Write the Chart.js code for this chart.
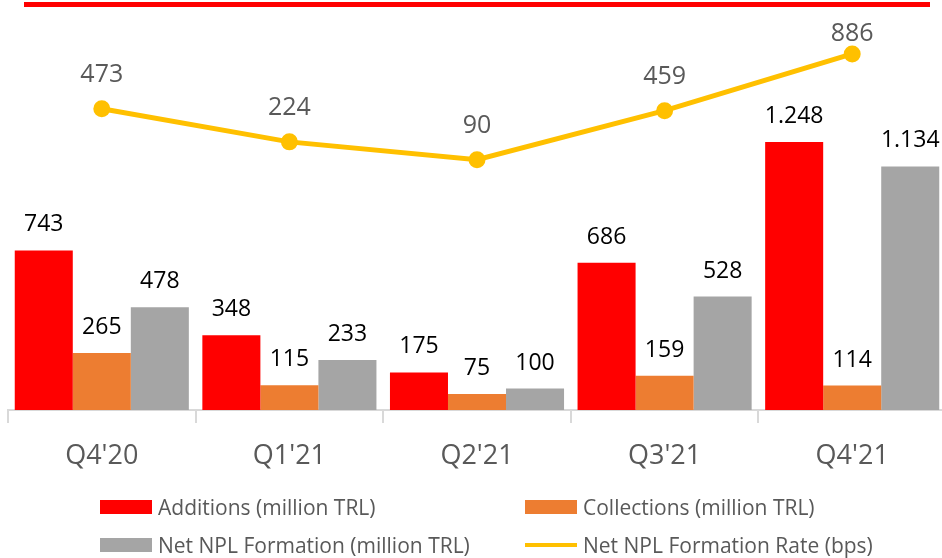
<!DOCTYPE html>
<html>
<head>
<meta charset="utf-8">
<script src="https://cdn.jsdelivr.net/npm/chart.js@4"></script>
<style>
  html, body { margin: 0; padding: 0; background: #fff; overflow: hidden; }
  #wrap { position: relative; width: 942px; height: 558px; overflow: hidden; }
  #topline { position: absolute; left: 24px; top: 2px; width: 906px; height: 5px; background: #ff0000; }
  #chart { position: absolute; left: -3px; top: 0; }
  #legend { position: absolute; left: 100px; top: 488px; display: grid; grid-template-columns: 425px auto; grid-auto-rows: 38px;
    font-family: "Open Sans", sans-serif; font-size: 21px; color: #595959; }
  .item { display: flex; align-items: center; }
  .swatch { width: 52px; margin-right: 6px; }
</style>
</head>
<body>
<div id="wrap">
  <canvas id="chart" width="960" height="558" style="width:960px;height:558px"></canvas>
  <div id="topline"></div>
  <div id="legend"></div>
</div>
<script>
const quarters = ["Q4'20", "Q1'21", "Q2'21", "Q3'21", "Q4'21"]
const additions = [743, 348, 175, 686, 1248]
const collections = [265, 115, 75, 159, 114]
const netNpl = [478, 233, 100, 528, 1134]
const nplRate = [473, 224, 90, 459, 886]

const fmt = v => String(v).replace(/\B(?=(\d{3})+(?!\d))/g, '.')

const valueLabels = {
  id: 'valueLabels',
  afterDatasetsDraw (chart) {
    const ctx = chart.ctx
    ctx.save()
    ctx.textAlign = 'center'
    ctx.textBaseline = 'alphabetic'
    chart.data.datasets.forEach((ds, i) => {
      const meta = chart.getDatasetMeta(i)
      meta.data.forEach((el, j) => {
        if (ds.type === 'line') {
          ctx.font = '25px "Open Sans"'
          ctx.fillStyle = '#595959'
          // keep the label below the top rule
          ctx.fillText(fmt(ds.data[j]), el.x, Math.max(el.y - 27, 41))
        } else {
          ctx.font = '23px "Open Sans"'
          ctx.fillStyle = '#000'
          ctx.fillText(fmt(ds.data[j]), el.x, el.y - 19)
        }
      })
    })
    ctx.restore()
  }
}

const chart = new Chart(document.getElementById('chart'), {
  data: {
    labels: quarters,
    datasets: [
      {
        type: 'line',
        label: 'Net NPL Formation Rate (bps)',
        data: nplRate,
        yAxisID: 'y2',
        borderColor: '#ffc000',
        backgroundColor: '#ffc000',
        borderWidth: 5,
        pointRadius: 6,
        pointHoverRadius: 6,
        order: 0
      },
      {
        type: 'bar',
        label: 'Additions (million TRL)',
        data: additions,
        backgroundColor: '#ff0000',
        order: 1
      },
      {
        type: 'bar',
        label: 'Collections (million TRL)',
        data: collections,
        backgroundColor: '#ed7d31',
        order: 1
      },
      {
        type: 'bar',
        label: 'Net NPL Formation (million TRL)',
        data: netNpl,
        backgroundColor: '#a5a5a5',
        order: 1
      }
    ]
  },
  options: {
    responsive: false,
    animation: false,
    datasets: { bar: { categoryPercentage: 0.928, barPercentage: 1 } },
    layout: { padding: { left: 5, right: 11, top: 10, bottom: 88 } },
    plugins: { legend: { display: false }, tooltip: { enabled: false } },
    scales: {
      x: {
        offset: true,
        grid: { offset: true, drawOnChartArea: false, tickLength: 13, color: '#d9d9d9', lineWidth: 2 },
        border: { color: '#d9d9d9', width: 2 },
        ticks: { color: '#595959', font: { family: 'Open Sans', size: 27 }, padding: 17 },
        afterFit: s => { s.height = 60 }
      },
      y: { display: false, min: 0, max: 1858 },
      y2: { display: false, min: -1794, max: 1209 }
    }
  },
  plugins: [valueLabels]
})

// legend: two columns, bars first then the rate line
const order = [1, 2, 3, 0]
const legend = document.getElementById('legend')
order.forEach(i => {
  const ds = chart.data.datasets[i]
  const item = document.createElement('div')
  item.className = 'item'
  const sw = document.createElement('span')
  sw.className = 'swatch'
  sw.style.height = ds.type === 'line' ? '4px' : '14px'
  sw.style.background = ds.backgroundColor
  item.appendChild(sw)
  item.appendChild(document.createTextNode(ds.label))
  legend.appendChild(item)
})
</script>
</body>
</html>
